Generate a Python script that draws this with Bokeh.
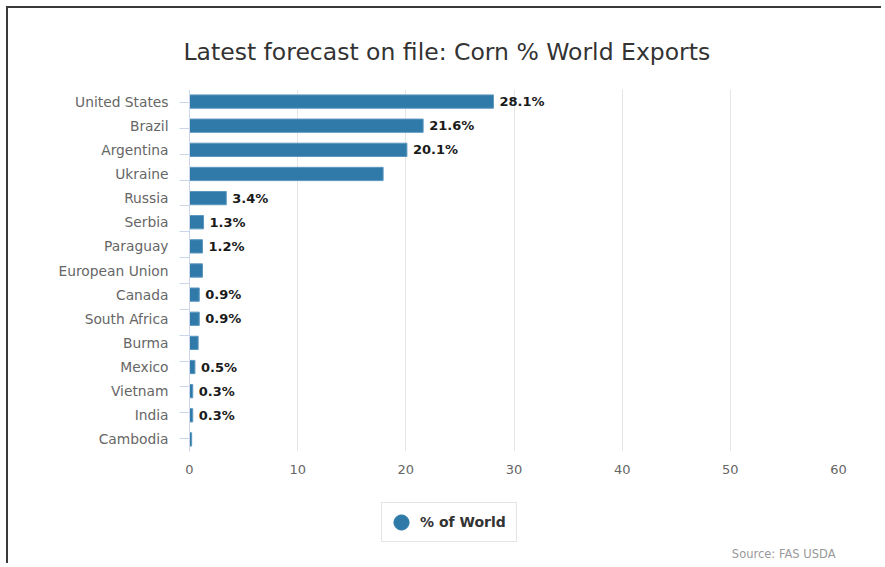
from bokeh.plotting import figure
from bokeh.layouts import column
from bokeh.models import (FactorRange, Range1d, LinearAxis, CategoricalAxis, FixedTicker,
                          Title, Label, Legend, LegendItem, ColumnDataSource)
from bokeh.core.properties import value
from bokeh.embed import file_html
from bokeh.resources import INLINE

countries = ["United States", "Brazil", "Argentina", "Ukraine", "Russia", "Serbia", "Paraguay",
             "European Union", "Canada", "South Africa", "Burma", "Mexico", "Vietnam", "India",
             "Cambodia"]
share = [28.1, 21.6, 20.1, 17.9, 3.4, 1.3, 1.2, 1.2, 0.9, 0.9, 0.8, 0.5, 0.3, 0.3, 0.2]
label_shown = [True, True, True, False, True, True, True, False, True, True, False, True, True, True, False]
x_ticks = [0, 10, 20, 30, 40, 50, 60]
series_name = "% of World"
source_text = "Source: FAS USDA"
title_text = "Latest forecast on file: Corn % World Exports"

labels = [f"{v}%" if s else "" for v, s in zip(share, label_shown)]

BAR = "#2f7aa8"
FONT = "DejaVu Sans"
BORDER = "2px solid #3a3a3a"

W, H1, H2 = 875, 482, 75
p = figure(width=W, height=H1, output_backend="svg", toolbar_location=None,
           y_range=FactorRange(factors=countries[::-1]), x_range=Range1d(0, 60),
           x_axis_location=None, y_axis_location=None,
           min_border_left=181, min_border_right=45, min_border_top=81, min_border_bottom=39,
           background_fill_color="white", border_fill_color="white")
p.outline_line_color = None
p.styles = {"border-top": BORDER, "border-left": BORDER, "margin-top": "6px", "margin-left": "6px"}

p.title = Title(text=title_text, align="left", offset=-6, standoff=48,
                text_font=FONT, text_font_size="23.5px",
                text_font_style="normal", text_color="#333333")

# helper categorical range whose factor centres fall on the category boundaries
boundary_factors = [f"b{i}" for i in range(len(countries) + 1)]
p.extra_y_ranges = {"ticks": FactorRange(factors=boundary_factors, range_padding=-1,
                                         range_padding_units="absolute")}

tick_axis = CategoricalAxis(y_range_name="ticks", major_label_text_font_size="0px",
                            major_label_text_color=None, major_label_standoff=0,
                            major_tick_out=10, major_tick_in=0,
                            axis_line_color="#ccd6eb", major_tick_line_color="#ccd6eb")
p.add_layout(tick_axis, "left")

cat_axis = CategoricalAxis(major_tick_out=0, major_tick_in=0, axis_line_color=None,
                           major_label_standoff=11, major_label_text_font=FONT,
                           major_label_text_font_size="13.8px", major_label_text_color="#666666")
p.add_layout(cat_axis, "left")

x_axis = LinearAxis(ticker=FixedTicker(ticks=x_ticks), axis_line_color=None,
                    major_tick_line_color=None, minor_tick_line_color=None,
                    major_label_standoff=7, major_label_text_font=FONT,
                    major_label_text_font_size="13px", major_label_text_color="#666666")
p.add_layout(x_axis, "below")

p.xgrid.ticker = FixedTicker(ticks=x_ticks)
p.xgrid.grid_line_color = "#e6e6e6"
p.ygrid.grid_line_color = None

src = ColumnDataSource(dict(country=countries, share=share, label=labels))
p.hbar(y="country", right="share", left=0, height=0.55, source=src,
       fill_color=BAR, line_color="#5c97bf", line_width=1)

p.text(x="share", y="country", text="label", source=src, x_offset=6,
       text_baseline="middle", text_align="left", text_font=value(FONT),
       text_font_style="bold", text_font_size="13px", text_color="#1a1a1a")

# footer figure: legend and source credit (its frame is aligned with the main frame)
p2 = figure(width=W, height=H2, output_backend="svg", toolbar_location=None,
            x_range=Range1d(100, 101), y_range=Range1d(100, 101),
            x_axis_location=None, y_axis_location=None, min_border=0,
            background_fill_color="white", border_fill_color="white")
p2.outline_line_color = None
p2.grid.grid_line_color = None
p2.styles = {"border-left": BORDER, "margin-left": "6px"}

# legend proxy: the series' points lie outside this footer's view, only the legend swatch shows
marker = p2.scatter(x="share", y="share", source=src, marker="circle",
                    fill_color=BAR, line_color=BAR)
legend = Legend(items=[LegendItem(label=series_name, renderers=[marker])],
                location=(192, 21), orientation="horizontal", margin=0,
                glyph_width=38, glyph_height=38, padding=0, label_standoff=0, label_width=96,
                label_text_font=FONT, label_text_font_style="bold",
                label_text_font_size="14px", label_text_color="#333333",
                border_line_color="#cccccc", border_line_width=1,
                background_fill_color="white", background_fill_alpha=1)
p2.add_layout(legend, "center")

credit = Label(x=646, y=10, x_units="screen", y_units="screen", text=source_text,
               text_align="right", text_baseline="middle", text_font=FONT,
               text_font_size="11.5px", text_color="#999999")
p2.add_layout(credit)

layout = column(p, p2, spacing=0)
open("out.html", "w").write(file_html(layout, INLINE))
